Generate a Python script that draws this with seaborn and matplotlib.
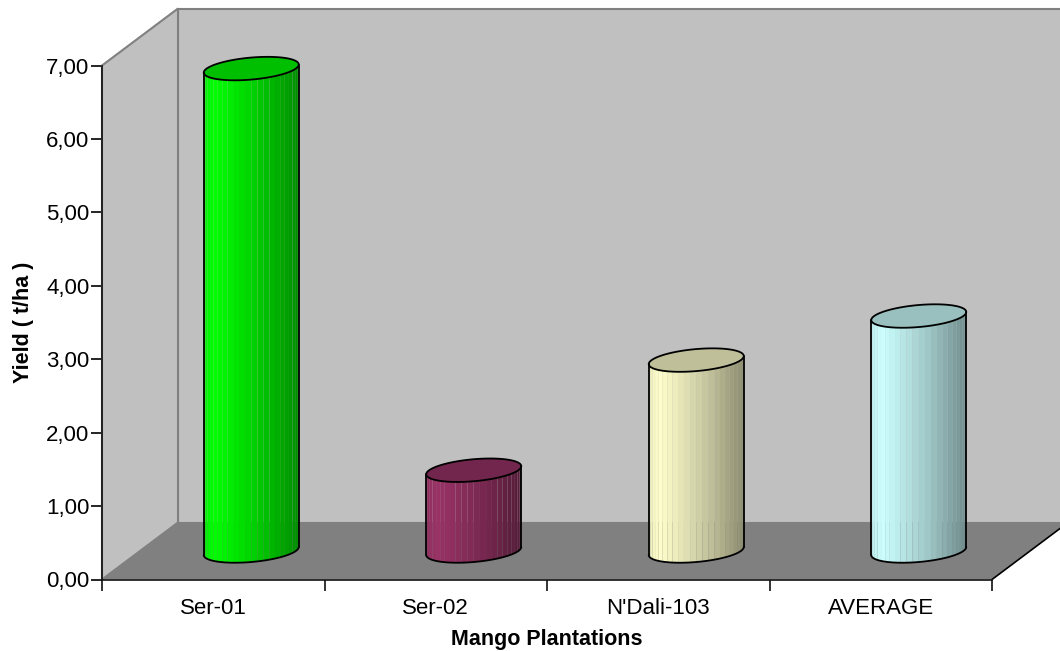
import numpy as np
import pandas as pd
import matplotlib
matplotlib.use("Agg")
import matplotlib.pyplot as plt
from matplotlib.transforms import Affine2D
import seaborn as sns

plantations = ["Ser-01", "Ser-02", "N'Dali-103", "AVERAGE"]
yields = [6.57, 1.10, 2.60, 3.20]
bar_colors = ["#00ff00", "#993366", "#ffffcc", "#ccffff"]
y_ticks = [0, 1, 2, 3, 4, 5, 6, 7]


def shade(color, factor):
    return tuple(c * factor for c in matplotlib.colors.to_rgb(color))


def draw_cylinder(ax, bar, color, trans):
    # seaborn gives the bar, the cylinder is built on top of it
    cx = bar.get_x() + bar.get_width() / 2
    half = bar.get_width() / 2
    top = bar.get_height()
    tilt, minor = 0.055, 0.15

    angles = np.linspace(np.pi, 0, 25)
    for t0, t1 in zip(angles[:-1], angles[1:]):
        ts = np.array([t0, t1])
        xs = cx + half * np.cos(ts)
        front = tilt * np.cos(ts) - minor * np.sin(ts)
        frac = (xs.mean() - (cx - half)) / (2 * half)
        f = np.interp(frac, [0, 0.12, 0.6, 1], [0.93, 1.0, 0.78, 0.55])
        ax.fill(np.r_[xs, xs[::-1]], np.r_[front, (top + front)[::-1]],
                color=shade(color, f), lw=0, transform=trans, clip_on=False, zorder=3)

    t = np.linspace(0, 2 * np.pi, 120)
    ax.fill(cx + half * np.cos(t), top + tilt * np.cos(t) + minor * np.sin(t),
            facecolor=shade(color, 0.75), edgecolor="black", lw=1.3,
            transform=trans, clip_on=False, zorder=4)
    t = np.linspace(np.pi, 0, 60)
    ax.plot(cx + half * np.cos(t), tilt * np.cos(t) - minor * np.sin(t),
            color="black", lw=1.3, transform=trans, clip_on=False, zorder=4)
    for side in (-1, 1):
        ax.plot([cx + side * half] * 2, [side * tilt, top + side * tilt],
                color="black", lw=1.3, transform=trans, clip_on=False, zorder=4)


def main():
    sns.set_style("white")
    plt.rcParams["font.family"] = ["Liberation Sans", "DejaVu Sans"]

    fig = plt.figure(figsize=(10.6, 6.51), dpi=100)
    ax = fig.add_axes([102 / 1060, 71.5 / 651, 890 / 1060, 514 / 651])
    ax.patch.set_alpha(0)

    df = pd.DataFrame({"plantation": plantations, "yield": yields})
    sns.barplot(data=df, x="plantation", y="yield", hue="plantation", palette=bar_colors,
                width=0.427, legend=False, ax=ax)
    ax.set_xlim(-0.5, 3.5)
    ax.set_ylim(0, 7)

    back = ax.transData + Affine2D().translate(76, 57)
    middle = ax.transData + Affine2D().translate(38, 28.5)

    # walls and floor of the 3D box
    ax.fill([-0.5, 3.5, 3.5, -0.5], [0, 0, 7, 7], facecolor="#c0c0c0", edgecolor="#808080",
            lw=1.5, transform=back, clip_on=False, zorder=0)
    depth_pts = [back.transform((-0.5, 7)), back.transform((-0.5, 0))]
    inv = ax.transData.inverted()
    (bx0, by1), (_, by0) = inv.transform(depth_pts)
    ax.fill([-0.5, bx0, bx0, -0.5], [7, by1, by0, 0], facecolor="#c0c0c0", edgecolor="#808080",
            lw=1.5, clip_on=False, zorder=1)
    (fx1, fy1) = inv.transform(back.transform((3.5, 0)))
    ax.fill([-0.5, bx0, fx1, 3.5], [0, by0, fy1, 0], facecolor="#808080", lw=0,
            clip_on=False, zorder=2)
    ax.plot([3.5, fx1], [0, fy1], color="black", lw=1.2, clip_on=False, zorder=2)

    for bar, color in zip(list(ax.patches), bar_colors):
        bar.set_visible(False)
        draw_cylinder(ax, bar, color, middle)

    sns.despine(ax=ax)
    for name in ("left", "bottom"):
        ax.spines[name].set_linewidth(1.2)
        ax.spines[name].set_color("#111111")
        ax.spines[name].set_zorder(5)

    ax.set_yticks(y_ticks)
    ax.set_yticklabels([f"{v:.2f}".replace(".", ",") for v in y_ticks])
    ax.set_xticks(range(len(plantations)))
    ax.set_xticklabels(plantations)
    ax.tick_params(axis="both", labelsize=16, colors="black")
    ax.tick_params(axis="y", length=8, width=1.2, left=True, pad=1)
    ax.tick_params(axis="x", bottom=False, pad=10)
    # category boundaries carry the ticks
    ax.set_xticks(np.arange(-0.5, 4), minor=True)
    ax.tick_params(axis="x", which="minor", bottom=True, length=8, width=1.2, color="#111111")

    ax.set_xlabel("Mango Plantations", fontsize=15.5, fontweight="bold", color="black", labelpad=7)
    ax.set_ylabel("Yield ( t/ha )", fontsize=15.5, fontweight="bold", color="black", labelpad=9)

    fig.savefig("out.png", dpi=100)


if __name__ == "__main__":
    main()
